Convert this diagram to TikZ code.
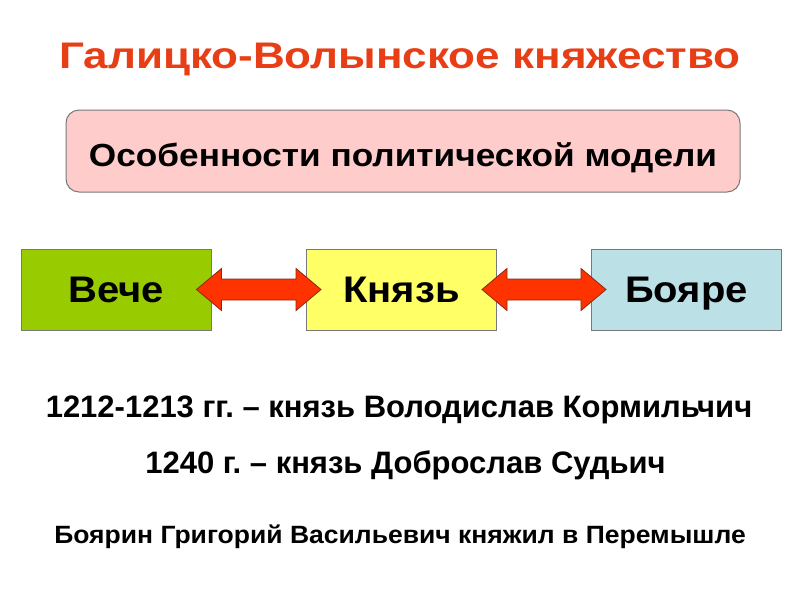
\documentclass[tikz,border=0pt]{standalone}
\usepackage{fontspec}
\setmainfont{Liberation Sans}
\newfontfamily\titelschrift{Liberation Sans}[FakeStretch=1.19]
\newfontfamily\modellschrift{Liberation Sans}[FakeStretch=1.1]
\newfontfamily\kastenschrift{Liberation Sans}[FakeStretch=1.08]
\newfontfamily\fussschrift{Liberation Sans}[FakeStretch=1.06]
\frenchspacing
\usetikzlibrary{calc}

\definecolor{titelrot}{RGB}{232,62,22}
\definecolor{rosa}{RGB}{255,204,204}
\definecolor{gruen}{RGB}{153,204,0}
\definecolor{gelb}{RGB}{255,255,102}
\definecolor{hellblau}{RGB}{187,224,230}
\definecolor{pfeilrot}{RGB}{255,51,0}
\definecolor{pfeilrand}{RGB}{140,40,10}
\definecolor{rahmen}{RGB}{120,120,120}

\begin{document}
\begin{tikzpicture}[x=1pt,y=-1pt,
  kasten/.style={draw=rahmen,line width=1pt,minimum width=190pt,minimum height=81pt,
    inner sep=0pt,text height=25pt,text depth=0pt,font=\kastenschrift\bfseries\fontsize{37}{37}\selectfont},
  zeile/.style={anchor=base,inner sep=0pt,font=\bfseries\fontsize{31}{31}\selectfont}]
\useasboundingbox (0,0) rectangle (800,600);
\def\doppelpfeil#1#2{
  \coordinate (p) at ($(#1.east)+(-15,0)$);
  \coordinate (q) at ($(#2.west)+(15,0)$);
  \draw[draw=pfeilrand,fill=pfeilrot,line width=0.8pt,line join=miter]
    (p) -- ++(25,-21) -- ++(0,10.5) -- ($(q)+(-25,-10.5)$) -- ++(0,-10.5) -- (q)
    -- ++(-25,21) -- ++(0,-10.5) -- ($(p)+(25,10.5)$) -- ++(0,10.5) -- cycle;
}
% Ueberschrift
\node[anchor=base,inner sep=0pt,text=titelrot,font=\titelschrift\bfseries\fontsize{37}{37}\selectfont]
  (titel) at (400,68) {Галицко-Волынское княжество};
\node[draw=rahmen,fill=rosa,line width=1pt,rounded corners=13pt,minimum width=674pt,
  minimum height=82pt,inner sep=0pt,text height=30pt,text depth=0pt,
  font=\modellschrift\bfseries\fontsize{32}{32}\selectfont]
  (modell) at (403,151) {Особенности политической модели};
% drei Kaesten
\node[kasten,fill=gruen] (veche) at (116,289.5) {Вече};
\node[kasten,fill=gelb] (knyaz) at (401.5,289.5) {Князь};
\node[kasten,fill=hellblau] (boyare) at (686.5,289.5) {Бояре};
\doppelpfeil{veche}{knyaz}
\doppelpfeil{knyaz}{boyare}
% Text unten
\node[zeile] (z1) at (399,417) {1212-1213 гг. – князь Володислав Кормильчич};
\node[zeile] (z2) at (405.5,473) {1240 г. – князь Доброслав Судьич};
\node[zeile,font=\fussschrift\bfseries\fontsize{25}{25}\selectfont] (z3) at (400,543)
  {Боярин Григорий Васильевич княжил в Перемышле};
\end{tikzpicture}
\end{document}
